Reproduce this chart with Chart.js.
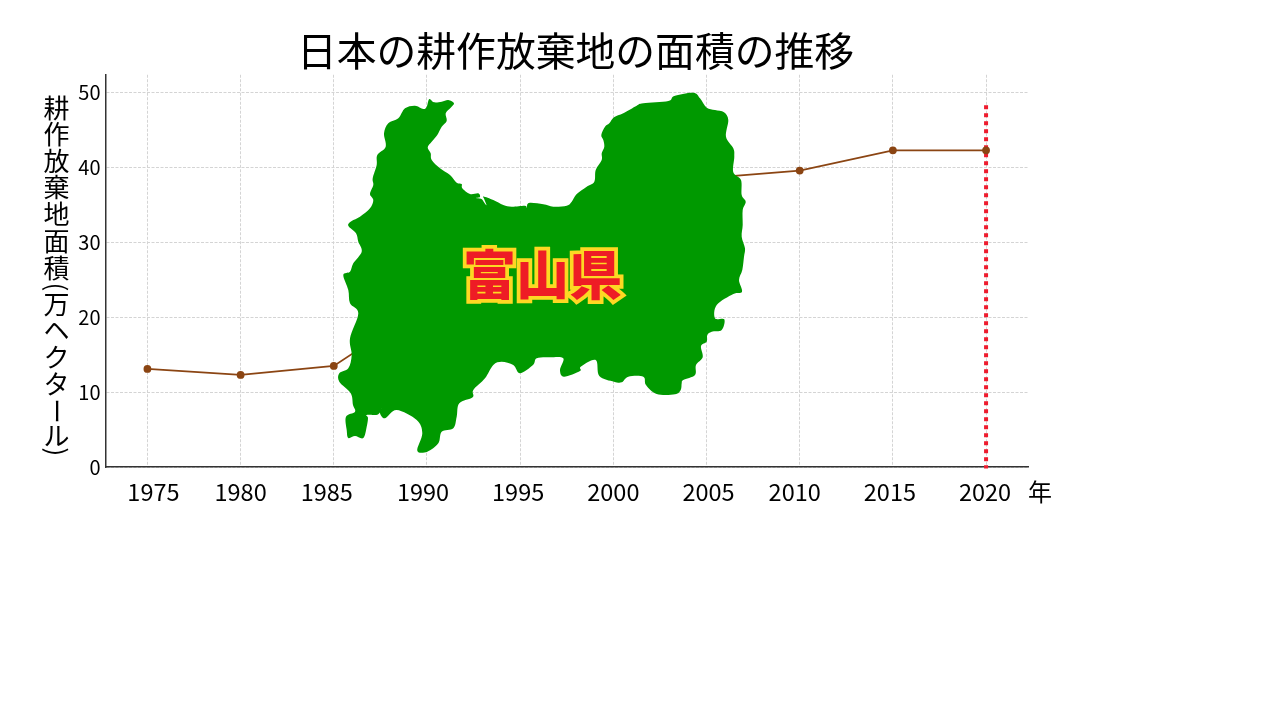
<!DOCTYPE html>
<html><head><meta charset="utf-8">
<style>html,body{margin:0;padding:0;background:#fff}#w{position:absolute;left:0;top:0;width:1152px;height:720px}</style>
<script src="https://cdn.jsdelivr.net/npm/chart.js@4"></script>
</head><body><div id="w"><canvas id="c"></canvas></div>
<script>
const years = [1975,1980,1985,1990,1995,2000,2005,2010,2015,2020];
const abandoned = [13.1,12.3,13.5,21.7,24.4,34.3,38.6,39.6,42.3,42.3];
const markerYear = [2020,2020];
const markerRange = [48.33,-0.2];
const yTicks = [0,10,20,30,40,50];
const xLabelNudge = [6,0,-7,-4,-2,0,2,-5,-3,-1];
const titleText = '日本の耕作放棄地の面積の推移';
const yTitleChars = ['耕','作','放','棄','地','面','積','(','万','ヘ','ク','タ','ー','ル',')'];
const yTitleCentres = [108,134.5,161,187.5,214,241,268,287,304,330,357,384,411,436,452];
const unitText = '年';
const prefName = '富山県';
const prefOutline = [[429.3,99],[434,102.3],[441.7,101.7],[448.3,100],[454,103.3],[450.7,107.7],[445.7,113.3],[446.7,121],[441.7,126.7],[437.3,135],[431.7,141.7],[427.7,147.3],[430.7,153.3],[431.7,160],[440,168.3],[450,175],[456.7,182.7],[461.7,184],[462.3,188.3],[470,194],[478.3,193.3],[480,197],[476,198],[481.5,199],[484.5,203],[486.5,205],[484,198.5],[483.5,196.5],[493.3,200],[503.3,205],[511.7,206.7],[525,205.7],[526.7,207.7],[529,203],[543.3,204.3],[553.3,206.7],[566.7,205.7],[571.7,201.7],[576.7,194],[586.7,186.7],[594.3,181.7],[595.7,170],[601.7,160],[601.7,153.3],[604.3,146.7],[603.3,140],[601.3,135],[605,126.7],[609.3,123.3],[614,117.3],[623.3,113.3],[636.7,105.7],[643.3,103.3],[668.3,101],[674.3,96],[693.3,92.7],[700,98.3],[706.7,107.7],[715,110],[724,112.3],[728.3,120],[726,136.7],[733.3,148.3],[734.3,156.7],[733.3,172.3],[741,180],[741.7,195],[745.7,201.7],[742.7,210],[742.7,225],[741.7,236.7],[745,248.3],[744,256.7],[742.3,270],[739,280],[742,291.7],[733.3,294],[716.7,305],[715,318.3],[724.3,319.3],[721.7,330],[711.7,331.7],[707.3,335],[706.7,341.7],[701,346],[702.7,357.3],[696,365],[695,375],[683.3,380],[681.7,383.3],[680.7,390],[675,394.3],[656.7,394],[646,385],[643.3,376.7],[628.3,376.7],[621.7,382.3],[614,381.7],[599.3,376],[595.7,360],[580.7,366.7],[580,371],[564,376.7],[560,370],[563.3,358.3],[550,357.3],[536.7,358.3],[533,365],[520,373.3],[513.3,365],[501.7,361.7],[493.3,365],[485,378.3],[473.3,390],[472.7,397.3],[459.3,403.3],[456.7,416.7],[453.3,428.3],[441.7,431.7],[438.3,443.3],[427.3,451.7],[417.3,450.7],[422.3,433.3],[416.7,420],[396.7,410],[385,418.3],[380,413.3],[381.7,408.3],[378,414.5],[366.7,415],[368,418],[366.7,426.7],[363.3,438],[355,436],[348.3,438],[346.7,430],[346,416.7],[355,411.7],[353,405],[350.7,393.3],[339.3,381.7],[339.3,373.3],[348.3,368.3],[351.7,355],[350,338.3],[358.3,313.3],[350,303.3],[348.3,290],[343.3,275],[350,271.7],[353.3,263.3],[361.7,251.7],[358.3,241.7],[356,233.3],[348.3,225.7],[351.7,221],[360,216.7],[370,208.3],[373.3,200],[370,194],[373.3,185],[372.7,178.3],[376.7,165],[377.3,155],[385.7,146.7],[384,133.3],[388.3,123.3],[398.3,118.3],[405,108.3],[415,105.7],[423.3,109],[426.7,106.7]];

const FONT = '"Noto Sans CJK JP"';
function tracePref(ctx){
  const P=prefOutline,n=P.length;
  ctx.beginPath(); ctx.moveTo(P[0][0],P[0][1]);
  for(let i=0;i<n;i++){
    const a=P[(i-1+n)%n],b=P[i],c=P[(i+1)%n],d=P[(i+2)%n];
    ctx.bezierCurveTo(b[0]+(c[0]-a[0])/6,b[1]+(c[1]-a[1])/6,c[0]-(d[0]-b[0])/6,c[1]-(d[1]-b[1])/6,c[0],c[1]);
  }
  ctx.closePath();
}
const overlay = {
  id:'overlay',
  beforeDraw(chart){ chart.titleBlock.left=0; chart.titleBlock.right=1151; },
  afterDatasetsDraw(chart){
    const ctx = chart.ctx, xs = chart.scales.x;
    ctx.save();
    tracePref(ctx);
    ctx.fillStyle='#009900'; ctx.fill();
    ctx.font='900 53px '+FONT;
    ctx.textAlign='center'; ctx.textBaseline='middle';
    ctx.lineJoin='miter'; ctx.miterLimit=4; ctx.lineWidth=7.5; ctx.strokeStyle='#fdd823';
    ctx.strokeText(prefName,542.5,275);
    ctx.fillStyle='#ee1c25'; ctx.fillText(prefName,542.5,275);
    ctx.fillStyle='#000'; ctx.font='23.5px '+FONT;
    years.forEach((y,i)=>ctx.fillText(String(y),xs.getPixelForValue(y)+xLabelNudge[i],492));
    ctx.font='24px '+FONT;
    ctx.fillText(unitText,1040,492);
    ctx.font='26px '+FONT;
    yTitleChars.forEach((ch,i)=>{
      ctx.save();
      ctx.translate(56.5,yTitleCentres[i]);
      if(ch==='('||ch===')'||ch==='ー') ctx.rotate(Math.PI/2);
      ctx.fillText(ch,0,0);
      ctx.restore();
    });
    ctx.restore();
  }
};

new Chart(document.getElementById('c'),{
  type:'line',
  data:{datasets:[
    {label:'耕作放棄地面積',data:years.map((y,i)=>({x:y,y:abandoned[i]})),borderColor:'#8b4513',backgroundColor:'#8b4513',borderWidth:1.8,pointRadius:3,pointHoverRadius:3,tension:0,clip:false},
    {label:'2020',data:markerYear.map((y,i)=>({x:y,y:markerRange[i]})),borderColor:'#ee1c2e',borderWidth:4,borderDash:[4,4],pointRadius:0,tension:0,clip:false}
  ]},
  options:{
    responsive:true,maintainAspectRatio:false,animation:false,
    layout:{padding:{left:0,right:124,top:27,bottom:0}},
    plugins:{legend:{display:false},tooltip:{enabled:false},
      title:{display:true,text:titleText,color:'#000',font:{family:FONT,size:39.8,weight:'normal'},padding:{top:0,bottom:0}}},
    scales:{
      x:{type:'linear',min:1972.75,max:2022.25,
        afterBuildTicks(s){s.ticks=years.map(v=>({value:v}));},
        afterFit(s){s.height=253;},
        ticks:{display:false},
        grid:{color:'#d4d4d4',lineWidth:1,drawTicks:false},
        border:{display:true,color:'#333333',width:1.5,dash:[3,1.5]}},
      y:{min:0,max:52.4,
        afterBuildTicks(s){s.ticks=yTicks.map(v=>({value:v}));},
        afterFit(s){s.width=105.5;},
        ticks:{color:'#000',padding:5,font:{family:FONT,size:20}},
        grid:{color:'#d4d4d4',lineWidth:1,drawTicks:false},
        border:{display:true,color:'#333333',width:1.5,dash:[3,1.5]}}
    }
  },
  plugins:[overlay]
});
</script></body></html>
